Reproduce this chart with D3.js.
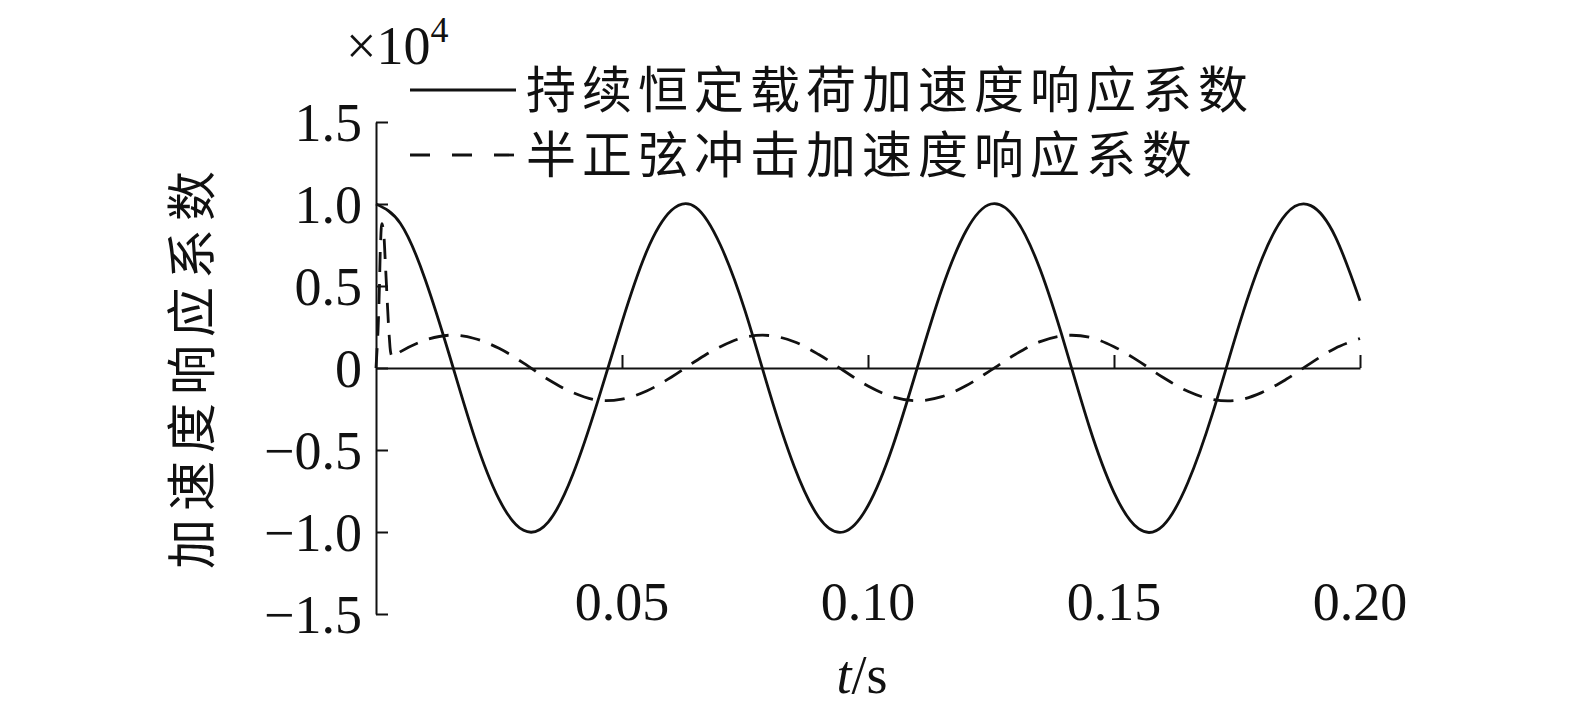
<!DOCTYPE html>
<html><head><meta charset="utf-8">
<script src="https://cdn.jsdelivr.net/npm/d3@7"></script>
<style>
html,body{margin:0;padding:0;background:#fff;}
svg{display:block;}
</style></head>
<body>
<svg id="c" width="1575" height="719"></svg>
<script>
// ---- data (values in units of 10^4) ----
const seriesNames = ["持续恒定载荷加速度响应系数", "半正弦冲击加速度响应系数"];
const yTicks = [-1.5, -1.0, -0.5, 0, 0.5, 1.0, 1.5];
const xTicks = [0.05, 0.10, 0.15, 0.20];
const solidT = [0,0.005,0.010,0.015,0.020,0.025,0.030,0.035,0.040,0.045,0.050,0.055,0.060,0.065,0.070,0.075,0.080,0.085,0.090,0.095,0.100,0.105,0.110,0.115,0.120,0.125,0.130,0.135,0.140,0.145,0.150,0.155,0.160,0.165,0.170,0.175,0.180,0.185,0.190,0.195,0.200];
const solidV = [1.00,0.88,0.54,0.07,-0.42,-0.80,-0.99,-0.94,-0.65,-0.21,0.28,0.71,0.96,0.98,0.75,0.35,-0.15,-0.60,-0.91,-1.00,-0.84,-0.48,0.00,0.48,0.84,1.00,0.91,0.60,0.14,-0.36,-0.76,-0.98,-0.96,-0.70,-0.28,0.22,0.66,0.94,0.99,0.80,0.41];
const dashT = [0,0.0004,0.0007,0.0009,0.0012,0.0015,0.0019,0.0023,0.0027,0.0031,0.0035,0.005,0.010,0.015,0.020,0.025,0.030,0.035,0.040,0.045,0.050,0.055,0.060,0.065,0.070,0.075,0.080,0.085,0.090,0.095,0.100,0.105,0.110,0.115,0.120,0.125,0.130,0.135,0.140,0.145,0.150,0.155,0.160,0.165,0.170,0.175,0.180,0.185,0.190,0.195,0.200];
const dashV = [0,0.22,0.50,0.74,0.88,0.84,0.64,0.40,0.19,0.08,0.065,0.10,0.17,0.20,0.18,0.12,0.03,-0.07,-0.15,-0.196,-0.19,-0.14,-0.056,0.043,0.13,0.188,0.198,0.16,0.082,-0.015,-0.11,-0.176,-0.20,-0.175,-0.107,-0.013,0.084,0.161,0.198,0.188,0.13,0.042,-0.058,-0.142,-0.192,-0.197,-0.15,-0.069,0.03,0.121,0.18];

// ---- layout ----
const svg = d3.select("#c");
const x = d3.scaleLinear().domain([0, 0.2]).range([376, 1360]);
const y = d3.scaleLinear().domain([-1.5, 1.5]).range([614, 122]);
const serif = "'Liberation Serif','Times New Roman',serif";
const cjk = "'Noto Sans CJK SC','Noto Sans CJK JP',sans-serif";

// y axis
const gy = svg.append("g").attr("transform", `translate(${x(0)},0)`)
  .call(d3.axisLeft(y).tickValues(yTicks).tickSizeInner(-12).tickSizeOuter(0).tickPadding(14)
    .tickFormat(d3.format(".1f")));
gy.select(".domain").attr("stroke", "#111").attr("stroke-width", 2);
gy.selectAll(".tick line").attr("stroke", "#111").attr("stroke-width", 2);
gy.selectAll(".tick text").attr("font-family", serif).attr("font-size", 54).attr("fill", "#111")
  .attr("dy", "0.34em").text(d => d === 0 ? "0" : d3.format(".1f")(d));

// x axis (line at zero)
const gx = svg.append("g").attr("transform", `translate(0,${y(0)})`)
  .call(d3.axisBottom(x).tickValues(xTicks).tickSizeInner(-13).tickSizeOuter(0).tickFormat(""));
gx.select(".domain").attr("stroke", "#111").attr("stroke-width", 2);
gx.selectAll(".tick line").attr("stroke", "#111").attr("stroke-width", 2);
svg.append("g").selectAll("text").data(xTicks).join("text")
  .attr("x", d => x(d)).attr("y", 620).attr("text-anchor", "middle")
  .attr("font-family", serif).attr("font-size", 54).attr("fill", "#111")
  .text(d => d3.format(".2f")(d));

// curves
const lineSmooth = d3.line().x(d => x(d[0])).y(d => y(d[1])).curve(d3.curveNatural);
const lineCR = d3.line().x(d => x(d[0])).y(d => y(d[1])).curve(d3.curveCatmullRom.alpha(0.5));
svg.append("path").datum(solidT.map((t, i) => [t, solidV[i]]))
  .attr("d", lineSmooth).attr("fill", "none").attr("stroke", "#111").attr("stroke-width", 2.8);
svg.append("path").datum(dashT.map((t, i) => [t, dashV[i]]))
  .attr("d", lineCR).attr("fill", "none").attr("stroke", "#111").attr("stroke-width", 2.8)
  .attr("stroke-dasharray", "20,12");

// multiplier
const mult = svg.append("text").attr("x", 346).attr("y", 64)
  .attr("font-family", serif).attr("font-size", 54).attr("fill", "#111");
mult.append("tspan").text("×10");
mult.append("tspan").attr("font-size", 36).attr("dy", -22).text("4");

// legend
const legY = [90, 155];
const legDash = [null, "20,22"];
svg.append("g").selectAll("line").data(seriesNames).join("line")
  .attr("x1", 410).attr("x2", 516).attr("y1", (d, i) => legY[i]).attr("y2", (d, i) => legY[i])
  .attr("stroke", "#111").attr("stroke-width", 2.8)
  .attr("stroke-dasharray", (d, i) => legDash[i]);
svg.append("g").selectAll("text").data(seriesNames).join("text")
  .attr("x", 526).attr("y", (d, i) => legY[i]).attr("dy", "0.36em")
  .attr("font-family", cjk).attr("font-size", 50).attr("letter-spacing", 6).attr("fill", "#111")
  .text(d => d);

// axis titles
const xt = svg.append("text").attr("x", 862).attr("y", 693).attr("text-anchor", "middle")
  .attr("font-family", serif).attr("font-size", 54).attr("fill", "#111");
xt.append("tspan").attr("font-style", "italic").text("t");
xt.append("tspan").text("/s");
svg.append("text").attr("transform", "translate(192,366) rotate(-90)")
  .attr("text-anchor", "middle").attr("dy", "0.36em")
  .attr("font-family", cjk).attr("font-size", 50).attr("letter-spacing", 8).attr("fill", "#111")
  .text("加速度响应系数");
</script>
</body></html>
